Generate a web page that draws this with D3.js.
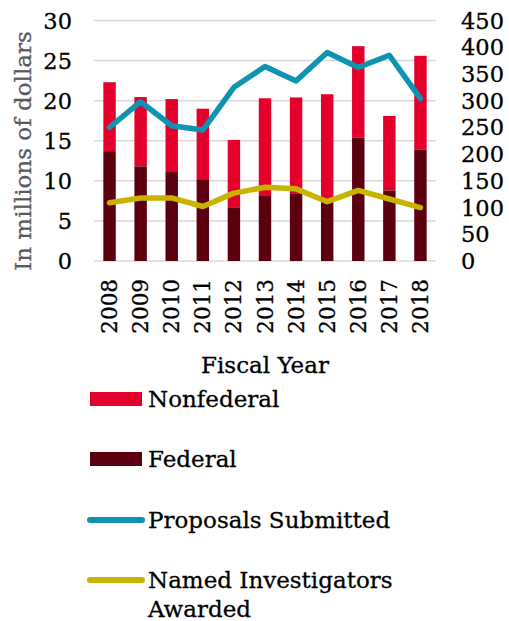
<!DOCTYPE html>
<html>
<head>
<meta charset="utf-8">
<script src="https://cdn.jsdelivr.net/npm/d3@7"></script>
<style>
  body { margin: 0; background: #fff; }
  svg { font-family: "DejaVu Serif", serif; }
  text { stroke: currentColor; stroke-width: 0.3px; }
</style>
</head>
<body>
<svg width="509" height="621"></svg>
<script>
// données
const years = ["2008","2009","2010","2011","2012","2013","2014","2015","2016","2017","2018"];
const federal = [13.7, 11.8, 11.2, 10.2, 6.7, 8.2, 8.45, 7.4, 15.4, 8.8, 13.9];
const nonfederal = [8.6, 8.65, 9.0, 8.8, 8.4, 12.1, 11.95, 13.4, 11.4, 9.3, 11.7];
const proposals = [250, 298, 253, 245, 325, 364, 337, 390, 362, 385, 304];
const investigators = [109, 118, 118, 102, 127, 138, 135, 111, 132, 116, 100];
const leftTicks = [0, 5, 10, 15, 20, 25, 30];
const rightTicks = [0, 50, 100, 150, 200, 250, 300, 350, 400, 450];

const colors = { nonfed: "#E4002B", fed: "#5C0010", prop: "#0E93B1", inv: "#C9B300" };

const svg = d3.select("svg");

const x = d3.scaleBand().domain(years).range([94, 436]).paddingInner(0.6).paddingOuter(0.3);
const y = d3.scaleLinear().domain([0, 30]).range([261, 20.5]);
const y2 = d3.scaleLinear().domain([0, 450]).range([261, 20.5]);

// grille
svg.append("g").selectAll("line")
  .data(leftTicks)
  .join("line")
  .attr("x1", 94).attr("x2", 436)
  .attr("y1", d => y(d)).attr("y2", d => y(d))
  .attr("stroke", "#D9D9D9").attr("stroke-width", 1.5);

// barres empilées
const stack = years.map((yr, i) => ({ yr, fed: federal[i], tot: federal[i] + nonfederal[i] }));

svg.append("g").selectAll("rect")
  .data(stack)
  .join("rect")
  .attr("x", d => x(d.yr))
  .attr("width", x.bandwidth())
  .attr("y", d => y(d.tot))
  .attr("height", d => y(d.fed) - y(d.tot))
  .attr("fill", colors.nonfed);

svg.append("g").selectAll("rect")
  .data(stack)
  .join("rect")
  .attr("x", d => x(d.yr))
  .attr("width", x.bandwidth())
  .attr("y", d => y(d.fed))
  .attr("height", d => y(0) - y(d.fed))
  .attr("fill", colors.fed);

// lignes
const cx = yr => x(yr) + x.bandwidth() / 2;
const line = d3.line().x((d, i) => cx(years[i])).y(d => y2(d));

svg.append("path").datum(investigators)
  .attr("d", line).attr("fill", "none")
  .attr("stroke", colors.inv).attr("stroke-width", 5.5)
  .attr("stroke-linejoin", "round").attr("stroke-linecap", "round");

svg.append("path").datum(proposals)
  .attr("d", line).attr("fill", "none")
  .attr("stroke", colors.prop).attr("stroke-width", 5.5)
  .attr("stroke-linejoin", "round").attr("stroke-linecap", "round");

// axe gauche
svg.append("g").selectAll("text")
  .data(leftTicks)
  .join("text")
  .attr("x", 72).attr("y", d => y(d) + 8)
  .attr("text-anchor", "end")
  .attr("font-size", "22.5px")
  .attr("fill", "#000").style("color", "#000")
  .text(d => d);

// axe droit
svg.append("g").selectAll("text")
  .data(rightTicks)
  .join("text")
  .attr("x", 461).attr("y", d => y2(d) + 8)
  .attr("text-anchor", "start")
  .attr("font-size", "22.5px")
  .attr("fill", "#000").style("color", "#000")
  .text(d => d);

// titre axe y
svg.append("text")
  .attr("transform", "translate(31,151) rotate(-90)")
  .attr("text-anchor", "middle")
  .attr("font-size", "23px")
  .attr("fill", "#595959").style("color", "#595959")
  .text("In millions of dollars");

// années
svg.append("g").selectAll("text")
  .data(years)
  .join("text")
  .attr("transform", d => `translate(${cx(d) + 7.5},279) rotate(-90)`)
  .attr("text-anchor", "end")
  .attr("font-size", "21.5px")
  .attr("fill", "#000").style("color", "#000")
  .text(d => d);

svg.append("text")
  .attr("x", 265).attr("y", 373)
  .attr("text-anchor", "middle")
  .attr("font-size", "23px")
  .attr("fill", "#000").style("color", "#000")
  .text("Fiscal Year");

// légende
const legend = [
  { label: ["Nonfederal"], type: "rect", color: colors.nonfed, y: 399 },
  { label: ["Federal"], type: "rect", color: colors.fed, y: 459 },
  { label: ["Proposals Submitted"], type: "line", color: colors.prop, y: 520 },
  { label: ["Named Investigators", "Awarded"], type: "line", color: colors.inv, y: 580 }
];

const lg = svg.append("g").selectAll("g").data(legend).join("g");
lg.filter(d => d.type === "rect").append("rect")
  .attr("x", 90).attr("y", d => d.y - 7).attr("width", 52).attr("height", 14)
  .attr("fill", d => d.color);
lg.filter(d => d.type === "line").append("line")
  .attr("x1", 90).attr("x2", 142).attr("y1", d => d.y).attr("y2", d => d.y)
  .attr("stroke", d => d.color).attr("stroke-width", 6).attr("stroke-linecap", "round");
lg.append("text")
  .attr("x", 148).attr("y", d => d.y + 8)
  .attr("font-size", "23px")
  .attr("fill", "#000").style("color", "#000")
  .selectAll("tspan")
  .data(d => d.label)
  .join("tspan")
  .attr("x", 148)
  .attr("dy", (d, i) => i === 0 ? 0 : 29)
  .text(d => d);
</script>
</body>
</html>
